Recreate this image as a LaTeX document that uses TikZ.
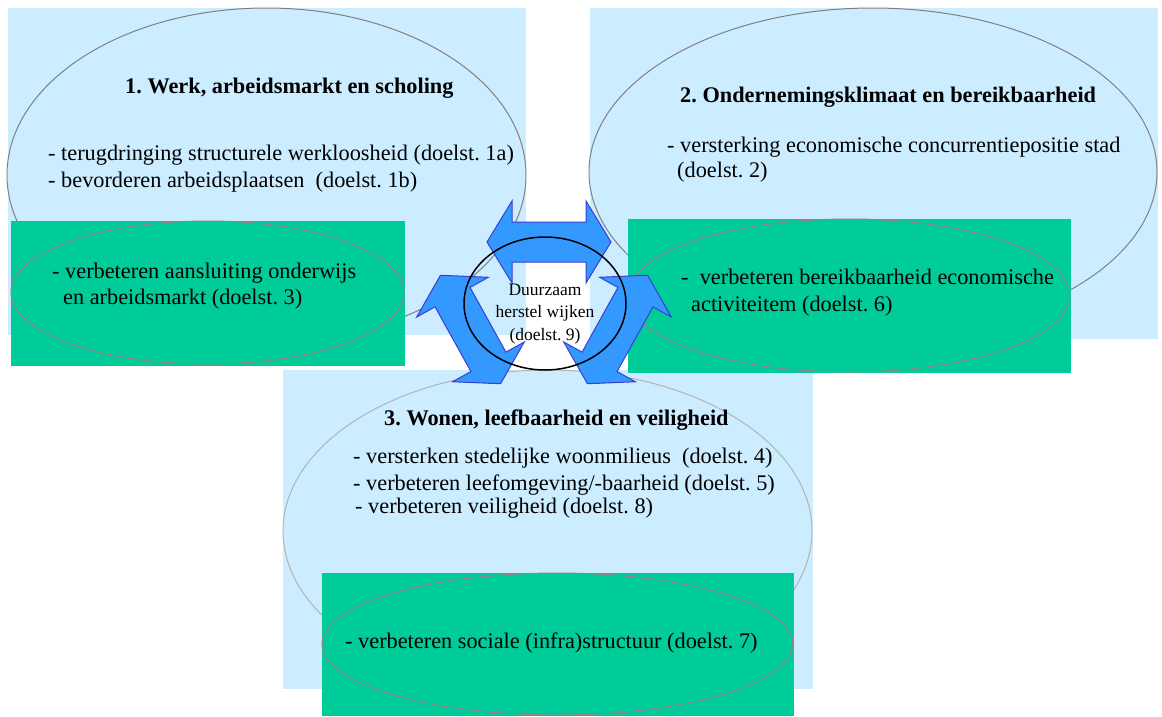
\documentclass[tikz,border=0pt]{standalone}
\usepackage{fontspec}
\setmainfont{Liberation Serif}
\definecolor{vlak_blauw}{RGB}{204, 236, 255}
\definecolor{vlak_groen}{RGB}{0, 204, 153}
\definecolor{pijl_blauw}{RGB}{51, 153, 255}
\definecolor{pijl_rand}{RGB}{60, 60, 210}
\definecolor{rand_grijs}{RGB}{128, 128, 128}
\definecolor{rand_licht}{RGB}{180, 180, 180}
\definecolor{rand_groen}{RGB}{150, 130, 140}
\usepackage{tikz}
\frenchspacing

\begin{document}
\begin{tikzpicture}[x=1pt, y=-1pt,
    regel/.style={anchor=west, inner sep=0pt, text height=15pt, text depth=5pt,
      font=\fontsize{22.3}{27}\selectfont},
    kop/.style={regel, font=\fontsize{22.3}{27}\selectfont\bfseries},
    pijl/.style={fill=pijl_blauw, draw=pijl_rand, line width=1pt}]
  \useasboundingbox (0,0) rectangle (1162,716);
  % Blauwe vlakken met ellipsen
  \fill[vlak_blauw] (8,8) rectangle (526,335);
  \draw[rand_grijs, line width=1pt] (266.5,175) ellipse [x radius=259.5, y radius=167];
  \fill[vlak_blauw] (590,8) rectangle (1158,339);
  \draw[rand_grijs, line width=1pt] (873,172) ellipse [x radius=284, y radius=164];
  \fill[vlak_blauw] (283,370) rectangle (813,689);
  \draw[rand_licht, line width=1pt] (547.5,531) ellipse [x radius=264.5, y radius=161];
  % Groene vlakken met ellipsen
  \fill[vlak_groen] (11,221) rectangle (405,366);
  \draw[rand_groen, line width=1pt] (207.5,292.5) ellipse [x radius=196.5, y radius=71.5];
  \fill[vlak_groen] (628,219) rectangle (1071,373);
  \draw[rand_groen, line width=1pt] (849,295.5) ellipse [x radius=221, y radius=76.5];
  \fill[vlak_groen] (322,573) rectangle (794,716);
  \draw[rand_groen, line width=1pt] (557.5,644) ellipse [x radius=235.5, y radius=71];

  % Thema 1
  \node[kop] (kop1) at (125,88) {1. Werk, arbeidsmarkt en scholing};
  \node[regel] (doel1a) at (48,155) {- terugdringing structurele werkloosheid (doelst. 1a)};
  \node[regel] (doel1b) at (48,182) {- bevorderen arbeidsplaatsen\ \ (doelst. 1b)};
  \node[regel] (doel3a) at (52,273) {- verbeteren aansluiting onderwijs};
  \node[regel] (doel3b) at (63,299) {en arbeidsmarkt (doelst. 3)};
  % Thema 2
  \node[kop] (kop2) at (680,97) {2. Ondernemingsklimaat en bereikbaarheid};
  \node[regel] (doel2a) at (667,147) {- versterking economische concurrentiepositie stad};
  \node[regel] (doel2b) at (677,172) {(doelst. 2)};
  \node[regel] (doel6a) at (681,279) {-\ \ verbeteren bereikbaarheid economische};
  \node[regel] (doel6b) at (691,306) {activiteitem (doelst. 6)};
  % Thema 3
  \node[kop] (kop3) at (384,420) {3. Wonen, leefbaarheid en veiligheid};
  \node[regel] (doel4) at (353,458) {- versterken stedelijke woonmilieus\ \ (doelst. 4)};
  \node[regel] (doel5) at (353,485) {- verbeteren leefomgeving/-baarheid (doelst. 5)};
  \node[regel] (doel8) at (355,508) {- verbeteren veiligheid (doelst. 8)};
  \node[regel] (doel7) at (345,643) {- verbeteren sociale (infra)structuur (doelst. 7)};

  % Drie dubbele pijlen rond het midden
  \foreach \px/\py/\hoek in {549/242/0, 470.5/329.5/-61, 617.5/329.5/61}
    \draw[pijl, shift={(\px,\py)}, rotate=\hoek]
      (-62,0) -- (-37,-41) -- (-37,-20) -- (37,-20) -- (37,-41) -- (62,0)
      -- (37,41) -- (37,20) -- (-37,20) -- (-37,41) -- cycle;
  % Middelste cirkel
  \draw[black, line width=1.5pt] (545,303.5) ellipse [x radius=81, y radius=66.5];
  \node[align=center, inner sep=0pt, font=\fontsize{17.5}{22.5}\selectfont]
    (doel9) at (545,314) {Duurzaam\\herstel wijken\\(doelst. 9)};
\end{tikzpicture}
\end{document}
